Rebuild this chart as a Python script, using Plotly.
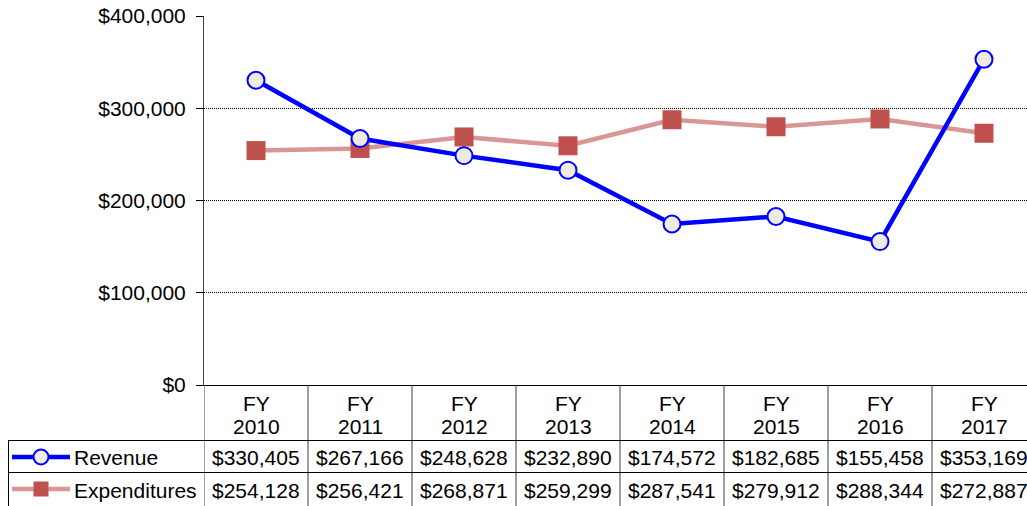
import plotly.graph_objects as go

categories = ["2010", "2011", "2012", "2013", "2014", "2015", "2016", "2017"]
revenue = [330405, 267166, 248628, 232890, 174572, 182685, 155458, 353169]
expenditures = [254128, 256421, 268871, 259299, 287541, 279912, 288344, 272887]
y_ticks = [0, 100000, 200000, 300000, 400000]
y_ticktext = ["$0", "$100,000", "$200,000", "$300,000", "$400,000"]

W, H = 1027, 506
FONT = "Liberation Sans, Arial, sans-serif"
FS = 21

# pixel layout helpers
PL, PT, PB = 204, 16, 385
COLW = 104
def py(p):  # pixel y -> paper
    return 1 - p / H
def px(p):
    return p / W

xs = list(range(len(categories)))
xmax = (W - PL) / COLW - 0.5

fig = go.Figure()

fig.add_trace(go.Scatter(
    x=xs, y=expenditures, name="Expenditures", mode="lines+markers",
    line=dict(color="#D99694", width=4.5),
    marker=dict(symbol="square", size=19, color="#C0504D", line=dict(width=0)),
    xaxis="x", yaxis="y", showlegend=False, cliponaxis=False))
fig.add_trace(go.Scatter(
    x=xs, y=revenue, name="Revenue", mode="lines+markers",
    line=dict(color="#0000FF", width=4.5),
    marker=dict(symbol="circle", size=17, color="#EEECE1", line=dict(color="#0000FF", width=2)),
    xaxis="x", yaxis="y", showlegend=False, cliponaxis=False))

# legend keys in the table's first column (pixel overlay axes)
fig.add_trace(go.Scatter(x=[12, 70], y=[457, 457], mode="lines", line=dict(color="#0000FF", width=4.5),
                         xaxis="x2", yaxis="y2", showlegend=False, hoverinfo="skip"))
fig.add_trace(go.Scatter(x=[41], y=[457], mode="markers",
                         marker=dict(symbol="circle", size=15, color="#EEECE1", line=dict(color="#0000FF", width=2)),
                         xaxis="x2", yaxis="y2", showlegend=False, hoverinfo="skip"))
fig.add_trace(go.Scatter(x=[12, 70], y=[489, 489], mode="lines", line=dict(color="#D99694", width=4.5),
                         xaxis="x2", yaxis="y2", showlegend=False, hoverinfo="skip"))
fig.add_trace(go.Scatter(x=[41], y=[489], mode="markers",
                         marker=dict(symbol="square", size=15, color="#C0504D"),
                         xaxis="x2", yaxis="y2", showlegend=False, hoverinfo="skip"))

shapes = []
# vertical separators of the table
for k in range(len(categories) + 1):
    shapes.append(dict(type="line", xref="x", yref="paper", x0=k - 0.5, x1=k - 0.5,
                       y0=py(506), y1=py(PB), line=dict(color="#404040", width=1)))
# left border
shapes.append(dict(type="line", xref="paper", yref="paper", x0=px(8.5), x1=px(8.5),
                   y0=py(506), y1=py(440), line=dict(color="#000000", width=1)))
for yy in (440.5, 472.5):
    shapes.append(dict(type="line", xref="paper", yref="paper", x0=px(8), x1=1,
                       y0=py(yy), y1=py(yy), line=dict(color="#000000", width=1)))

annotations = []
def ann(x, y, text, xref="x", xanchor="center"):
    annotations.append(dict(x=x, y=py(y), xref=xref, yref="paper", text=text, showarrow=False,
                            xanchor=xanchor, yanchor="middle",
                            font=dict(family=FONT, size=FS, color="#000")))

for i, c in enumerate(categories):
    ann(i, 403, "FY")
    ann(i, 426, c)
    ann(i, 457, "${:,}".format(revenue[i]))
    ann(i, 490, "${:,}".format(expenditures[i]))
ann(px(72), 457, "Revenue", xref="paper", xanchor="left")
ann(px(72), 490, "Expenditures", xref="paper", xanchor="left")

fig.update_layout(
    template="none",
    width=W, height=H,
    margin=dict(l=0, r=0, t=0, b=0, pad=0, autoexpand=False),
    paper_bgcolor="white", plot_bgcolor="rgba(0,0,0,0)",
    font=dict(family=FONT, size=FS, color="#000"),
    xaxis=dict(domain=[px(PL), 1], range=[-0.5, xmax], showticklabels=False, ticks="",
               showgrid=False, zeroline=False, showline=True, linecolor="#000", linewidth=1,
               automargin=False),
    yaxis=dict(domain=[py(PB), py(PT)], range=[0, 400000], tickvals=y_ticks, ticktext=y_ticktext,
               ticks="outside", ticklen=7, tickcolor="#000", ticklabelstandoff=6,
               showgrid=True, gridcolor="#000", griddash="1px,1px", gridwidth=1,
               zeroline=False, showline=True, linecolor="#404040", linewidth=1, automargin=False,
               tickfont=dict(family=FONT, size=FS, color="#000")),
    xaxis2=dict(domain=[0, 1], range=[0, W], visible=False, anchor="y2", automargin=False),
    yaxis2=dict(domain=[0, 1], range=[H, 0], visible=False, anchor="x2", automargin=False),
    shapes=shapes, annotations=annotations,
)

fig.write_html("out.html", config={"displayModeBar": False},
               post_script="document.body.style.margin='0';document.body.style.overflow='hidden';")
